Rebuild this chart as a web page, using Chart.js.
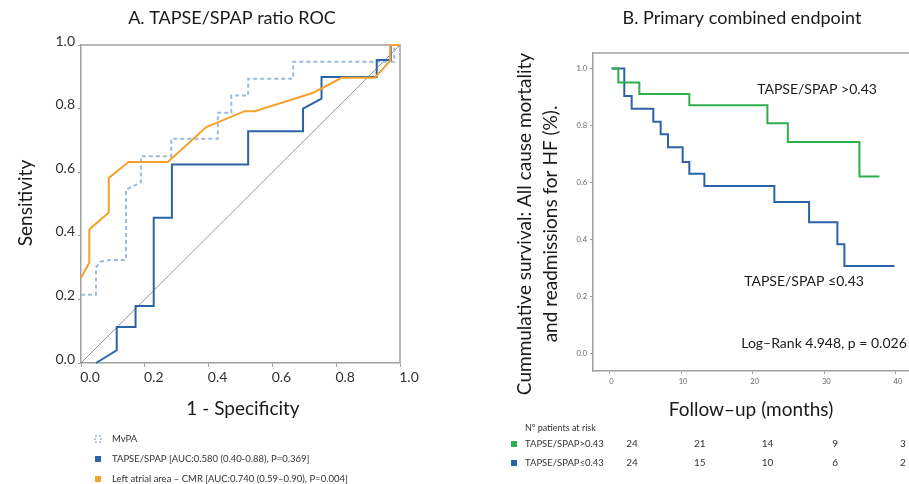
<!DOCTYPE html>
<html>
<head>
<meta charset="utf-8">
<script src="https://cdn.jsdelivr.net/npm/chart.js@4.4.1/dist/chart.umd.min.js"></script>
<style>
  html, body { margin: 0; padding: 0; background: #fff; }
  #wrap { position: relative; width: 909px; height: 484px; }
  #rocChart { position: absolute; left: 0; top: 0; }
  #kmChart { position: absolute; left: 455px; top: 0; }
</style>
</head>
<body>
<div id="wrap">
  <canvas id="rocChart" width="455" height="484"></canvas>
  <canvas id="kmChart" width="454" height="484"></canvas>
</div>
<script>
// ============================================================
// DATA
// ============================================================

// Panel A: ROC curves, x = 1 - specificity, y = sensitivity
const rocTicks = [0, 0.2, 0.4, 0.6, 0.8, 1.0];

const mvpaFpr = [0, 0.047, 0.047, 0.06, 0.089, 0.141, 0.141, 0.188, 0.188, 0.283, 0.283, 0.429, 0.429, 0.471, 0.471, 0.524, 0.524, 0.665, 0.665, 0.982, 0.982, 1.0];
const mvpaTpr = [0.215, 0.215, 0.30, 0.318, 0.324, 0.324, 0.545, 0.568, 0.650, 0.650, 0.705, 0.705, 0.787, 0.787, 0.841, 0.841, 0.894, 0.894, 0.947, 0.947, 1.0, 1.0];

const tapseFpr = [0.047, 0.112, 0.112, 0.171, 0.171, 0.228, 0.228, 0.285, 0.285, 0.524, 0.524, 0.696, 0.696, 0.754, 0.754, 0.927, 0.927, 0.971, 0.971, 1.0];
const tapseTpr = [0, 0.04, 0.113, 0.113, 0.179, 0.179, 0.457, 0.457, 0.624, 0.624, 0.729, 0.729, 0.80, 0.831, 0.899, 0.899, 0.953, 0.953, 1.0, 1.0];

const laFpr = [0, 0.026, 0.026, 0.087, 0.087, 0.149, 0.272, 0.393, 0.513, 0.545, 0.728, 0.817, 0.921, 0.969, 0.969, 1.0];
const laTpr = [0.268, 0.315, 0.42, 0.473, 0.582, 0.632, 0.632, 0.742, 0.792, 0.792, 0.850, 0.897, 0.897, 0.95, 1.0, 1.0];

const rocLabels = [
  'MvPA',
  'TAPSE/SPAP [AUC:0.580 (0.40-0.88), P=0.369]',
  'Left atrial area \u2013 CMR [AUC:0.740 (0.59\u20130.90), P=0.004]'
];

// Panel B: Kaplan-Meier survival
const kmTicksX = [0, 10, 20, 30, 40];
const kmTicksY = [0, 0.2, 0.4, 0.6, 0.8, 1.0];

const highTime = [0.3, 1.24, 4.17, 11.15, 22.05, 24.9, 34.9, 37.7];
const highSurv = [1.0, 0.951, 0.91, 0.871, 0.808, 0.742, 0.621, 0.621];

const lowTime = [0.3, 2.07, 3.1, 6.12, 7.15, 8.17, 10.22, 11.15, 13.25, 23.02, 27.87, 31.82, 32.8, 39.8];
const lowSurv = [1.0, 0.903, 0.859, 0.813, 0.769, 0.724, 0.672, 0.631, 0.588, 0.532, 0.461, 0.384, 0.308, 0.308];

const groupLabels = ['TAPSE/SPAP>0.43', 'TAPSE/SPAP\u22640.43'];
const riskHigh = [24, 21, 14, 9, 3];
const riskLow = [24, 15, 10, 6, 2];

// ============================================================
// STYLE
// ============================================================
const FONT = 'Lato, "Open Sans", sans-serif';
const FRAME = '#a0a0a0';
const ORANGE = '#f5a12b';
const BLUE = '#2b64a6';
const LIGHTBLUE = '#9dbbdd';
const GREEN = '#2fae4c';

function pairs(xs, ys) {
  return xs.map(function (x, i) { return { x: x, y: ys[i] }; });
}

function fixTicks(values) {
  return function (axis) { axis.ticks = values.map(function (v) { return { value: v }; }); };
}

// ============================================================
// PANEL A - ROC
// ============================================================
const rocDecor = {
  id: 'rocDecor',
  beforeDatasetsDraw(chart) {
    const ctx = chart.ctx, a = chart.chartArea;
    ctx.save();
    ctx.strokeStyle = FRAME;
    ctx.lineWidth = 1.5;
    ctx.beginPath();
    ctx.moveTo(a.left, a.top);
    ctx.lineTo(a.right, a.top);
    ctx.lineTo(a.right, a.bottom);
    ctx.stroke();
    ctx.restore();
  },
  afterDraw(chart) {
    const ctx = chart.ctx;
    ctx.save();
    ctx.fillStyle = '#1a1a1a';
    ctx.textAlign = 'center';
    ctx.textBaseline = 'middle';
    ctx.font = '18px ' + FONT;
    ctx.fillText('A. TAPSE/SPAP ratio ROC', 232, 18);
    ctx.font = '19px ' + FONT;
    ctx.fillText('1 - Specificity', 243, 409);
    ctx.save();
    ctx.translate(26, 203);
    ctx.rotate(-Math.PI / 2);
    ctx.fillText('Sensitivity', 0, 0);
    ctx.restore();

    // legend under the plot
    ctx.textAlign = 'left';
    ctx.font = '9.5px ' + FONT;
    const rows = [439, 459, 479];
    chart.data.datasets.slice(0, 3).forEach(function (ds, i) {
      const y = rows[i];
      if (ds.borderDash && ds.borderDash.length) {
        ctx.strokeStyle = ds.borderColor;
        ctx.lineWidth = 1.5;
        ctx.setLineDash([2, 2]);
        ctx.strokeRect(95, y - 3, 6, 6);
        ctx.setLineDash([]);
      } else {
        ctx.fillStyle = ds.borderColor;
        ctx.fillRect(95, y - 3, 6, 6);
      }
      ctx.fillStyle = '#333';
      ctx.fillText(ds.label, 112, y);
    });
    ctx.restore();
  }
};

new Chart(document.getElementById('rocChart'), {
  type: 'scatter',
  data: {
    datasets: [
      { label: rocLabels[0], data: pairs(mvpaFpr, mvpaTpr), showLine: true, borderColor: LIGHTBLUE,
        borderWidth: 2, borderDash: [4, 3], pointRadius: 0, clip: false, order: 3 },
      { label: rocLabels[1], data: pairs(tapseFpr, tapseTpr), showLine: true, borderColor: BLUE,
        borderWidth: 2, pointRadius: 0, clip: false, order: 2 },
      { label: rocLabels[2], data: pairs(laFpr, laTpr), showLine: true, borderColor: ORANGE,
        borderWidth: 2, pointRadius: 0, clip: false, order: 1 },
      { label: 'reference', data: pairs([0, 1], [0, 1]), showLine: true, borderColor: '#777',
        borderWidth: 0.8, pointRadius: 0, order: 4 }
    ]
  },
  options: {
    responsive: false,
    animation: false,
    layout: { padding: { top: 45, right: 55, left: 0, bottom: 0 } },
    plugins: { legend: { display: false }, tooltip: { enabled: false } },
    scales: {
      x: {
        type: 'linear', min: 0, max: 1,
        afterBuildTicks: fixTicks(rocTicks),
        afterFit: function (axis) { axis.height = 121; },
        grid: { drawOnChartArea: false, tickLength: 4, color: FRAME },
        border: { color: FRAME, width: 1.5 },
        ticks: { padding: 2, labelOffset: 9, color: '#333', font: { family: FONT, size: 14 },
                  callback: function (v) { return v.toFixed(1); } }
      },
      y: {
        type: 'linear', min: 0, max: 1,
        afterBuildTicks: fixTicks(rocTicks),
        afterFit: function (axis) { axis.width = 81; },
        grid: { drawOnChartArea: false, tickLength: 3, color: FRAME },
        border: { color: FRAME, width: 1.5 },
        ticks: { padding: 3, labelOffset: -4, color: '#333', font: { family: FONT, size: 14 },
                  callback: function (v) { return v.toFixed(1); } }
      }
    }
  },
  plugins: [rocDecor]
});

// ============================================================
// PANEL B - KAPLAN-MEIER
// ============================================================
const kmDecor = {
  id: 'kmDecor',
  beforeDatasetsDraw(chart) {
    const ctx = chart.ctx, a = chart.chartArea;
    ctx.save();
    ctx.strokeStyle = FRAME;
    ctx.lineWidth = 1.5;
    ctx.beginPath();
    ctx.moveTo(a.left, a.top);
    ctx.lineTo(chart.width, a.top);
    ctx.stroke();
    ctx.restore();
  },
  afterDraw(chart) {
    const ctx = chart.ctx;
    ctx.save();
    ctx.fillStyle = '#1a1a1a';
    ctx.textAlign = 'center';
    ctx.textBaseline = 'middle';
    ctx.font = '18px ' + FONT;
    ctx.fillText('B. Primary combined endpoint', 287, 18);
    ctx.font = '19px ' + FONT;
    ctx.fillText('Follow\u2013up (months)', 296, 410);

    ctx.save();
    ctx.translate(70, 224);
    ctx.rotate(-Math.PI / 2);
    ctx.font = '19px ' + FONT;
    ctx.fillText('Cummulative survival: All cause mortality', 0, 0);
    ctx.fillText('and readmissions for HF (%).', 0, 26);
    ctx.restore();

    // annotations
    ctx.font = '14px ' + FONT;
    ctx.fillText('TAPSE/SPAP >0.43', 362, 89);
    ctx.fillText('TAPSE/SPAP \u22640.43', 349, 281);
    ctx.fillText('Log\u2013Rank 4.948, p = 0.026', 369, 343);

    // patients at risk table
    ctx.textAlign = 'left';
    ctx.font = '9px ' + FONT;
    ctx.fillStyle = '#333';
    ctx.fillText('N\u00ba patients at risk', 70, 428);
    const rows = [
      { y: 444, color: GREEN, label: groupLabels[0], counts: riskHigh },
      { y: 463, color: BLUE, label: groupLabels[1], counts: riskLow }
    ];
    rows.forEach(function (r) {
      ctx.fillStyle = r.color;
      ctx.fillRect(56, r.y - 3, 6, 6);
      ctx.fillStyle = '#333';
      ctx.textAlign = 'left';
      ctx.font = '9.5px ' + FONT;
      ctx.fillText(r.label, 70, r.y);
      ctx.textAlign = 'center';
      ctx.font = '10px ' + FONT;
      r.counts.forEach(function (n, i) {
        ctx.fillText(String(n), 177 + i * 67.75, r.y);
      });
    });
    ctx.restore();
  }
};

new Chart(document.getElementById('kmChart'), {
  type: 'scatter',
  data: {
    datasets: [
      { label: groupLabels[0], data: pairs(highTime, highSurv), showLine: true, stepped: 'before',
        borderColor: GREEN, borderWidth: 2, pointRadius: 0, clip: false },
      { label: groupLabels[1], data: pairs(lowTime, lowSurv), showLine: true, stepped: 'before',
        borderColor: BLUE, borderWidth: 2, pointRadius: 0, clip: false }
    ]
  },
  options: {
    responsive: false,
    animation: false,
    layout: { padding: { top: 53, right: 1, left: 0, bottom: 0 } },
    plugins: { legend: { display: false }, tooltip: { enabled: false } },
    scales: {
      x: {
        type: 'linear', min: -2.3, max: 41.68,
        afterBuildTicks: fixTicks(kmTicksX),
        afterFit: function (axis) { axis.height = 113; },
        grid: { drawOnChartArea: false, tickLength: 3, color: FRAME },
        border: { color: FRAME, width: 1.5 },
        ticks: { padding: 3, labelOffset: 2, color: '#666', font: { family: FONT, size: 7.5 } }
      },
      y: {
        type: 'linear', min: -0.06, max: 1.054,
        afterBuildTicks: fixTicks(kmTicksY),
        afterFit: function (axis) { axis.width = 138; },
        grid: { drawOnChartArea: false, tickLength: 3, color: FRAME },
        border: { color: FRAME, width: 1.5 },
        ticks: { padding: 3, color: '#666', font: { family: FONT, size: 7.5 },
                  callback: function (v) { return v.toFixed(1); } }
      }
    }
  },
  plugins: [kmDecor]
});
</script>
</body>
</html>
